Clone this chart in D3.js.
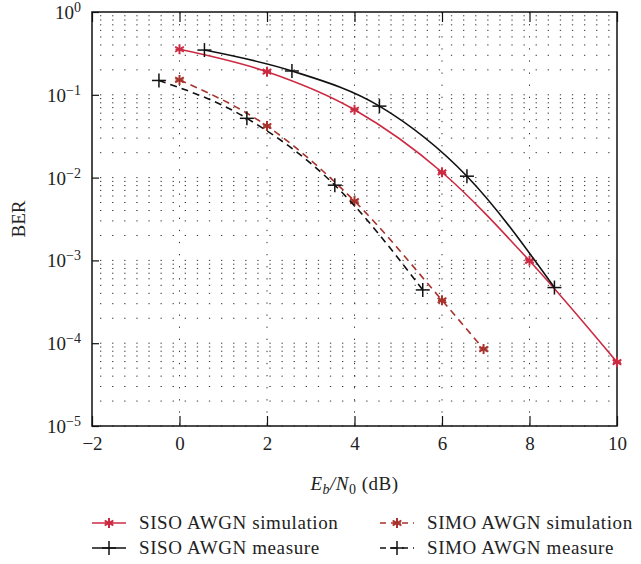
<!DOCTYPE html>
<html>
<head>
<meta charset="utf-8">
<script src="https://cdn.jsdelivr.net/npm/d3@7"></script>
<style>
  body { margin: 0; background: #fff; }
  text { font-family: "Liberation Serif", "DejaVu Serif", serif; fill: #222; }
</style>
</head>
<body>
<svg id="chart"></svg>
<script>
// 图表尺寸
var width = 641;
var height = 564;
var margin = {top: 12, right: 24, bottom: 138, left: 92};

// 数据
var sisoSimX = [0, 2, 4, 6, 8, 10];
var sisoSimY = [0.355, 0.19, 0.066, 0.0116, 0.00099, 0.000059];
var sisoMeasX = [0.57, 2.57, 4.57, 6.57, 8.57];
var sisoMeasY = [0.347, 0.194, 0.073, 0.0104, 0.00047];
var simoSimX = [0, 2, 4, 6, 6.95];
var simoSimY = [0.151, 0.042, 0.0052, 0.00033, 0.000085];
var simoMeasX = [-0.47, 1.54, 3.55, 5.56];
var simoMeasY = [0.149, 0.052, 0.0081, 0.00044];
var xTicks = [-2, 0, 2, 4, 6, 8, 10];
var yExps = [0, -1, -2, -3, -4, -5];
var legendLabels = ["SISO AWGN simulation", "SISO AWGN measure", "SIMO AWGN simulation", "SIMO AWGN measure"];

var red = "#cc2a42";
var brown = "#a8322c";

var svg = d3.select("#chart")
    .attr("width", width)
    .attr("height", height);

var x = d3.scaleLinear()
    .domain([-2, 10])
    .range([margin.left, width - margin.right]);

var y = d3.scaleLog()
    .domain([1e-5, 1])
    .range([height - margin.bottom, margin.top]);

var x0 = margin.left, x1 = width - margin.right;
var y0 = height - margin.bottom, y1 = margin.top;

// 网格 (点线)
var minorVals = [];
yExps.slice(1).forEach(e => {
    for (var k = 1; k <= 9; k++) minorVals.push(k * Math.pow(10, e));
});
svg.append("g").selectAll("line")
    .data(minorVals)
    .join("line")
    .attr("x1", x0 + 8).attr("x2", x1)
    .attr("y1", d => y(d)).attr("y2", d => y(d))
    .attr("stroke", "#333")
    .attr("stroke-width", 1)
    .attr("stroke-dasharray", "1.3,10.8");

svg.append("g").selectAll("line")
    .data(xTicks.slice(1, -1))
    .join("line")
    .attr("x1", d => x(d)).attr("x2", d => x(d))
    .attr("y1", y1).attr("y2", y0)
    .attr("stroke", "#333")
    .attr("stroke-width", 1)
    .attr("stroke-dasharray", "1.3,10.8");

// 坐标轴
svg.append("g")
    .attr("transform", `translate(0,${y0})`)
    .call(d3.axisBottom(x).tickValues(xTicks).tickSizeInner(-10).tickSizeOuter(0).tickPadding(11)
        .tickFormat(d => d < 0 ? "\u2212" + Math.abs(d) : d))
    .call(g => g.select(".domain").remove())
    .call(g => g.selectAll("line").attr("stroke", "#111").attr("stroke-width", 1.2))
    .call(g => g.selectAll("text").style("font-size", "19px").attr("fill", "#222"));

svg.append("g")
    .attr("transform", `translate(0,${y1})`)
    .call(d3.axisTop(x).tickValues(xTicks).tickSizeInner(-10).tickSizeOuter(0).tickFormat(""))
    .call(g => g.select(".domain").remove())
    .call(g => g.selectAll("line").attr("stroke", "#111").attr("stroke-width", 1.2));

svg.append("g")
    .attr("transform", `translate(${x0},0)`)
    .call(d3.axisLeft(y).tickValues(yExps.map(e => Math.pow(10, e))).tickSizeInner(-7).tickSizeOuter(0).tickFormat(""))
    .call(g => g.select(".domain").remove())
    .call(g => g.selectAll("line").attr("stroke", "#111").attr("stroke-width", 1.2));

// y 轴标签 10^n
yExps.forEach(e => {
    var t = svg.append("text")
        .attr("x", x0 - 11)
        .attr("y", y(Math.pow(10, e)) + 7)
        .attr("text-anchor", "end")
        .style("font-size", "19px");
    t.append("tspan").text("10");
    t.append("tspan").attr("dy", -7).style("font-size", "14px")
        .text(e === 0 ? "0" : "\u2212" + Math.abs(e));
});

// 边框
svg.append("rect")
    .attr("x", x0).attr("y", y1)
    .attr("width", x1 - x0).attr("height", y0 - y1)
    .attr("fill", "none")
    .attr("stroke", "#111")
    .attr("stroke-width", 1.5);

// 轴标题
var xl = svg.append("text")
    .attr("x", (x0 + x1) / 2)
    .attr("y", 490)
    .attr("text-anchor", "middle")
    .style("font-size", "19px")
    .style("letter-spacing", "0.5px");
xl.append("tspan").style("font-style", "italic").text("E");
xl.append("tspan").style("font-style", "italic").style("font-size", "14px").attr("dy", 4).text("b");
xl.append("tspan").style("font-style", "italic").attr("dy", -4).text("/N");
xl.append("tspan").style("font-size", "14px").attr("dy", 4).text("0");
xl.append("tspan").attr("dy", -4).text(" (dB)");

svg.append("text")
    .attr("transform", `translate(25,${(y0 + y1) / 2}) rotate(-90)`)
    .attr("text-anchor", "middle")
    .style("font-size", "19px")
    .text("BER");

// 标记
function star(g, cx, cy, color) {
    var r = 5;
    for (var i = 0; i < 3; i++) {
        var a = Math.PI / 2 + i * Math.PI / 3;
        g.append("line")
            .attr("x1", cx - r * Math.cos(a)).attr("y1", cy - r * Math.sin(a))
            .attr("x2", cx + r * Math.cos(a)).attr("y2", cy + r * Math.sin(a))
            .attr("stroke", color).attr("stroke-width", 2);
    }
    g.append("line")
        .attr("x1", cx - 4).attr("x2", cx + 4).attr("y1", cy).attr("y2", cy)
        .attr("stroke", color).attr("stroke-width", 1.5);
}
function plus(g, cx, cy, color) {
    var r = 7;
    g.append("line").attr("x1", cx - r).attr("x2", cx + r).attr("y1", cy).attr("y2", cy)
        .attr("stroke", color).attr("stroke-width", 1.5);
    g.append("line").attr("x1", cx).attr("x2", cx).attr("y1", cy - r).attr("y2", cy + r)
        .attr("stroke", color).attr("stroke-width", 1.5);
}

var series = [
    {xs: sisoSimX, ys: sisoSimY, color: red, dash: null, marker: star},
    {xs: sisoMeasX, ys: sisoMeasY, color: "#111", dash: null, marker: plus},
    {xs: simoSimX, ys: simoSimY, color: brown, dash: "7,5", marker: star},
    {xs: simoMeasX, ys: simoMeasY, color: "#111", dash: "7,5", marker: plus}
];

var line = d3.line()
    .x(d => x(d[0]))
    .y(d => y(d[1]))
    .curve(d3.curveMonotoneX);

series.forEach(s => {
    var pts = s.xs.map((v, i) => [v, s.ys[i]]);
    svg.append("path")
        .datum(pts)
        .attr("fill", "none")
        .attr("stroke", s.color)
        .attr("stroke-width", 1.6)
        .attr("stroke-dasharray", s.dash)
        .attr("d", line);
    var g = svg.append("g");
    pts.forEach(p => s.marker(g, x(p[0]), y(p[1]), s.color));
});

// 图例
var legPos = [[92, 523], [92, 548], [380, 523], [380, 548]];
series.forEach((s, i) => {
    var lx = legPos[i][0], ly = legPos[i][1];
    var g = svg.append("g");
    g.append("line")
        .attr("x1", lx).attr("x2", lx + 34)
        .attr("y1", ly).attr("y2", ly)
        .attr("stroke", s.color)
        .attr("stroke-width", 1.6)
        .attr("stroke-dasharray", s.dash ? "6,5" : null);
    s.marker(g, lx + 17, ly, s.color);
    g.append("text")
        .attr("x", lx + 47)
        .attr("y", ly + 6)
        .style("font-size", "19px")
        .style("letter-spacing", "0.6px")
        .text(legendLabels[i]);
});
</script>
</body>
</html>
